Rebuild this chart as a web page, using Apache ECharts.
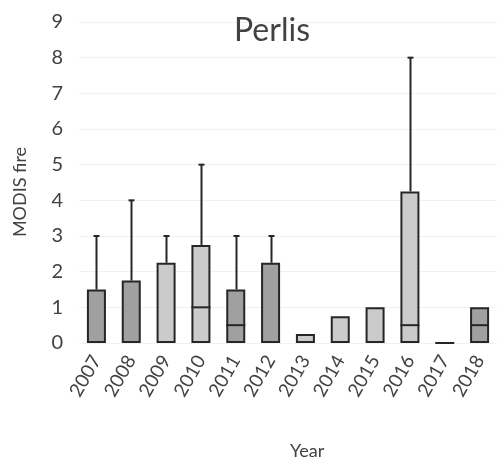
<!DOCTYPE html>
<html>
<head>
<meta charset="utf-8">
<script src="https://cdn.jsdelivr.net/npm/echarts@6/dist/echarts.min.js"></script>
<style>
  html, body { margin: 0; padding: 0; background: #fff; }
  #chart { width: 497px; height: 468px; }
</style>
</head>
<body>
<div id="chart"></div>
<script>
// Yearly MODIS fire counts for Perlis: mean (bar), median (line), maximum (whisker)
const years = ['2007', '2008', '2009', '2010', '2011', '2012', '2013', '2014', '2015', '2016', '2017', '2018'];
const means = [1.5, 1.75, 2.25, 2.75, 1.5, 2.25, 0.25, 0.75, 1, 4.25, 0, 1];
const medians = [null, null, null, 1, 0.5, null, null, null, null, 0.5, null, 0.5];
const maxima = [3, 4, 3, 5, 3, 3, null, null, null, 8, null, null];
const darkYears = ['2007', '2008', '2011', '2012', '2018'];
const yTicks = [0, 1, 2, 3, 4, 5, 6, 7, 8, 9];

const FONT = 'Lato';
const TEXT = '#424242';
const EDGE = '#262626';
const DARK = '#a0a0a0';
const LIGHT = '#cbcbcb';

const chart = echarts.init(document.getElementById('chart'), null, { renderer: 'canvas' });

const barData = means.map((v, i) => ({
  value: v,
  itemStyle: { color: darkYears.includes(years[i]) ? DARK : LIGHT }
}));

chart.setOption({
  animation: false,
  backgroundColor: '#fff',
  title: {
    text: 'Perlis',
    left: 229,
    top: 10,
    textStyle: { fontFamily: FONT, fontSize: 32, fontWeight: 'normal', color: TEXT }
  },
  grid: { left: 79, right: -7, top: 22, bottom: 125 },
  xAxis: {
    type: 'category',
    data: years,
    axisLine: { show: false },
    axisTick: { show: false },
    axisLabel: {
      rotate: 60,
      margin: 14,
      fontFamily: FONT,
      fontSize: 19,
      color: TEXT
    }
  },
  yAxis: {
    type: 'value',
    min: yTicks[0],
    max: yTicks[yTicks.length - 1],
    interval: 1,
    axisLine: { show: false },
    axisTick: { show: false },
    axisLabel: { margin: 16, fontFamily: FONT, fontSize: 20, color: TEXT },
    splitLine: { lineStyle: { color: '#f1f1f1', width: 1 } }
  },
  graphic: [
    {
      type: 'text',
      x: 290,
      y: 442,
      style: { text: 'Year', font: '18px ' + FONT, fill: TEXT }
    },
    {
      type: 'text',
      x: 20,
      y: 192,
      rotation: Math.PI / 2,
      style: { text: 'MODIS fire', font: '18px ' + FONT, fill: TEXT, align: 'center', verticalAlign: 'middle' }
    }
  ],
  series: [
    {
      type: 'bar',
      data: barData,
      barWidth: 19,
      itemStyle: { borderColor: EDGE, borderWidth: 2 },
      z: 2
    },
    {
      // whiskers from the bar top up to the yearly maximum
      type: 'custom',
      data: years.map((y, i) => [i, means[i], maxima[i]]),
      renderItem: function (params, api) {
        const hi = api.value(2);
        if (hi === null || hi === undefined || isNaN(hi)) return null;
        const lo = api.coord([api.value(0), api.value(1)]);
        const top = api.coord([api.value(0), hi]);
        const x = Math.round(lo[0]) + 0.5;
        return {
          type: 'group',
          children: [
            { type: 'line', shape: { x1: x, y1: lo[1], x2: x, y2: top[1] },
              style: { stroke: EDGE, lineWidth: 2 } },
            { type: 'line', shape: { x1: x - 3, y1: top[1], x2: x + 3, y2: top[1] },
              style: { stroke: EDGE, lineWidth: 2 } }
          ]
        };
      },
      z: 1
    },
    {
      // median marks across the bars
      type: 'custom',
      data: years.map((y, i) => [i, medians[i]]),
      renderItem: function (params, api) {
        const m = api.value(1);
        if (m === null || m === undefined || isNaN(m)) return null;
        const p = api.coord([api.value(0), m]);
        return {
          type: 'line',
          shape: { x1: p[0] - 9.5, y1: p[1], x2: p[0] + 9.5, y2: p[1] },
          style: { stroke: EDGE, lineWidth: 2 }
        };
      },
      z: 3
    }
  ]
});
</script>
</body>
</html>
